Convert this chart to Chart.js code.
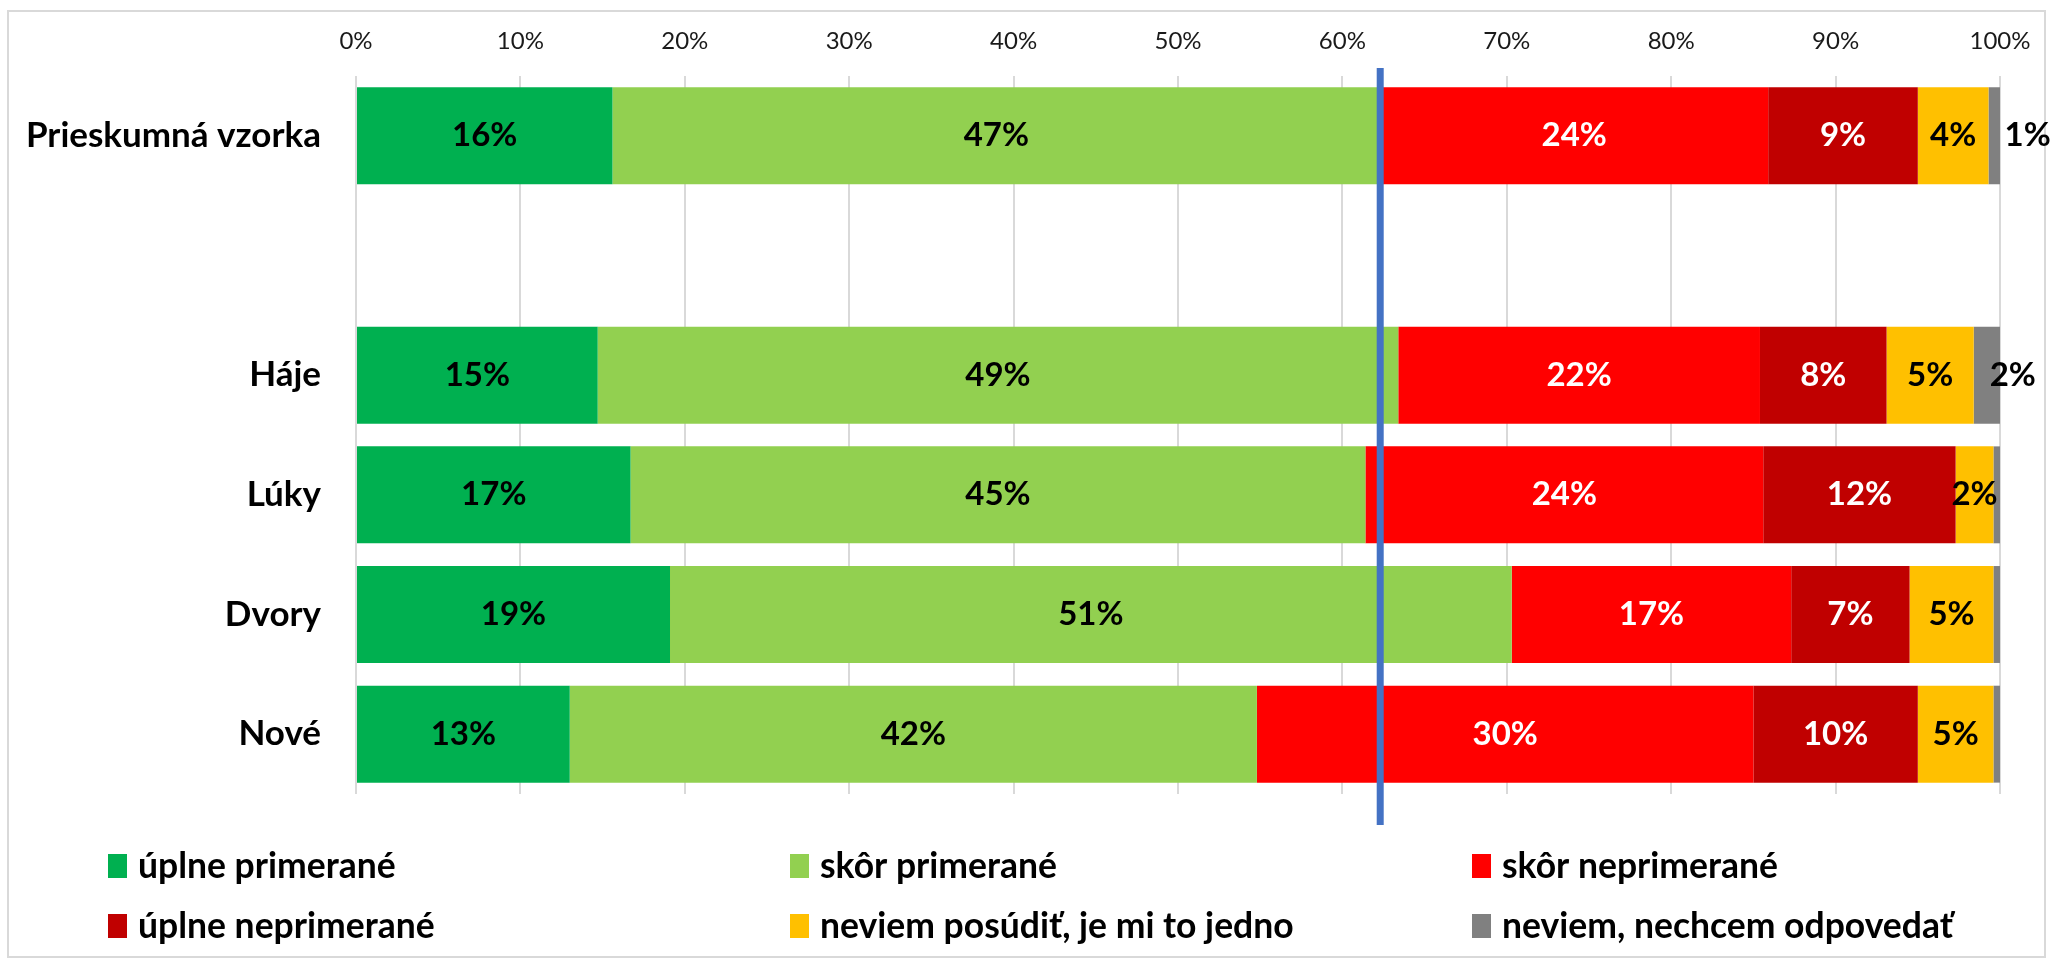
<!DOCTYPE html>
<html>
<head>
<meta charset="utf-8">
<script src="https://cdn.jsdelivr.net/npm/chart.js@4.4.0/dist/chart.umd.min.js"></script>
<style>
    body { margin: 0; background: #ffffff; }
    canvas { display: block; }
</style>
</head>
<body>
<canvas id="chart" width="2053" height="961"></canvas>
<script>
// Categories (empty one keeps the gap under the sample row)
const categories = ['Prieskumná vzorka', '', 'Háje', 'Lúky', 'Dvory', 'Nové'];

// Series values in %
const uplnePrimerane     = [15.6, null, 14.7, 16.7, 19.1, 13.0];
const skorPrimerane      = [46.7, null, 48.7, 44.7, 51.2, 41.8];
const skorNeprimerane    = [23.6, null, 22.0, 24.2, 17.0, 30.2];
const uplneNeprimerane   = [9.1, null, 7.7, 11.7, 7.2, 10.0];
const neviemPosudit      = [4.3, null, 5.3, 2.3, 5.1, 4.6];
const neviemNechcem      = [0.7, null, 1.6, 0.4, 0.4, 0.4];

const seriesNames = ['úplne primerané', 'skôr primerané', 'skôr neprimerané',
    'úplne neprimerané', 'neviem posúdiť, je mi to jedno', 'neviem, nechcem odpovedať'];
const seriesColors = ['#00B050', '#92D050', '#FF0000', '#C00000', '#FFC000', '#808080'];
const labelColors = ['#000000', '#000000', '#ffffff', '#ffffff', '#000000', '#000000'];

// Axis ticks
const tickValues = [0, 10, 20, 30, 40, 50, 60, 70, 80, 90, 100];

// Reference line: positive share of the whole sample
const referenceValue = uplnePrimerane[0] + skorPrimerane[0];

const FONT = 'Lato, "Open Sans", sans-serif';

// Frame around the whole picture
const framePlugin = {
    id: 'frame',
    beforeDraw(chart) {
        const ctx = chart.ctx;
        ctx.save();
        ctx.fillStyle = '#ffffff';
        ctx.fillRect(0, 0, chart.width, chart.height);
        ctx.strokeStyle = '#d9d9d9';
        ctx.lineWidth = 2;
        ctx.strokeRect(8, 11, chart.width - 16, chart.height - 15);
        ctx.restore();
    }
};

// Percent labels inside the bars
const barLabelsPlugin = {
    id: 'barLabels',
    afterDatasetsDraw(chart) {
        const ctx = chart.ctx;
        ctx.save();
        ctx.font = 'bold 33px ' + FONT;
        ctx.textBaseline = 'middle';
        chart.data.datasets.forEach((ds, i) => {
            const meta = chart.getDatasetMeta(i);
            meta.data.forEach((bar, j) => {
                const v = ds.data[j];
                if (v == null || Math.round(v) < 1) return;
                const text = Math.round(v) + '%';
                ctx.fillStyle = labelColors[i];
                if (i === 5) {
                    // tiny last segment: label sits to the right
                    ctx.textAlign = 'left';
                    ctx.fillText(text, bar.base + 16, bar.y);
                } else {
                    ctx.textAlign = 'center';
                    ctx.fillText(text, (bar.x + bar.base) / 2, bar.y);
                }
            });
        });
        ctx.restore();
    }
};

// Vertical blue reference line
const refLinePlugin = {
    id: 'refLine',
    afterDatasetsDraw(chart) {
        const ctx = chart.ctx;
        const x = chart.scales.x.getPixelForValue(referenceValue);
        const area = chart.chartArea;
        ctx.save();
        ctx.strokeStyle = '#4472C4';
        ctx.lineWidth = 7;
        ctx.beginPath();
        ctx.moveTo(x, area.top - 8);
        ctx.lineTo(x, area.bottom + 31);
        ctx.stroke();
        ctx.restore();
    }
};

// Legend in a 3 x 2 grid under the plot
const gridLegendPlugin = {
    id: 'gridLegend',
    afterDraw(chart) {
        const ctx = chart.ctx;
        ctx.save();
        ctx.font = 'bold 35.5px ' + FONT;
        ctx.textBaseline = 'middle';
        ctx.textAlign = 'left';
        chart.data.datasets.forEach((ds, i) => {
            const col = i % 3;
            const row = Math.floor(i / 3);
            const x = 108 + col * 682;
            const y = 866 + row * 60;
            ctx.fillStyle = ds.backgroundColor;
            ctx.fillRect(x, y - 12, 19, 24);
            ctx.fillStyle = '#000000';
            ctx.fillText(ds.label, x + 30, y + 1);
        });
        ctx.restore();
    }
};

const seriesData = [uplnePrimerane, skorPrimerane, skorNeprimerane, uplneNeprimerane, neviemPosudit, neviemNechcem];

const chart = new Chart(document.getElementById('chart'), {
    type: 'bar',
    data: {
        labels: categories,
        datasets: seriesData.map((d, i) => ({
            label: seriesNames[i],
            data: d,
            backgroundColor: seriesColors[i],
            borderWidth: 0,
            categoryPercentage: 1,
            barPercentage: 0.81
        }))
    },
    options: {
        indexAxis: 'y',
        responsive: false,
        animation: false,
        devicePixelRatio: 1,
        layout: { padding: { left: 0, right: 53, top: 0, bottom: 167 } },
        plugins: {
            legend: { display: false },
            tooltip: { enabled: false }
        },
        scales: {
            x: {
                position: 'top',
                stacked: true,
                min: 0,
                max: 100,
                afterBuildTicks: (axis) => { axis.ticks = tickValues.map(v => ({ value: v })); },
                afterFit: (axis) => { axis.height = 76; },
                grid: { color: '#d9d9d9', lineWidth: 2, drawTicks: false },
                border: { display: false },
                ticks: {
                    padding: 20,
                    color: '#1a1a1a',
                    font: { family: FONT, size: 24 },
                    callback: v => v + '%'
                }
            },
            y: {
                stacked: true,
                afterFit: (axis) => { axis.width = 356; },
                grid: { display: false, drawTicks: false },
                border: { display: false },
                ticks: {
                    padding: 35,
                    color: '#000000',
                    font: { family: FONT, size: 35, weight: 'bold' }
                }
            }
        }
    },
    plugins: [framePlugin, barLabelsPlugin, refLinePlugin, gridLegendPlugin]
});
</script>
</body>
</html>
